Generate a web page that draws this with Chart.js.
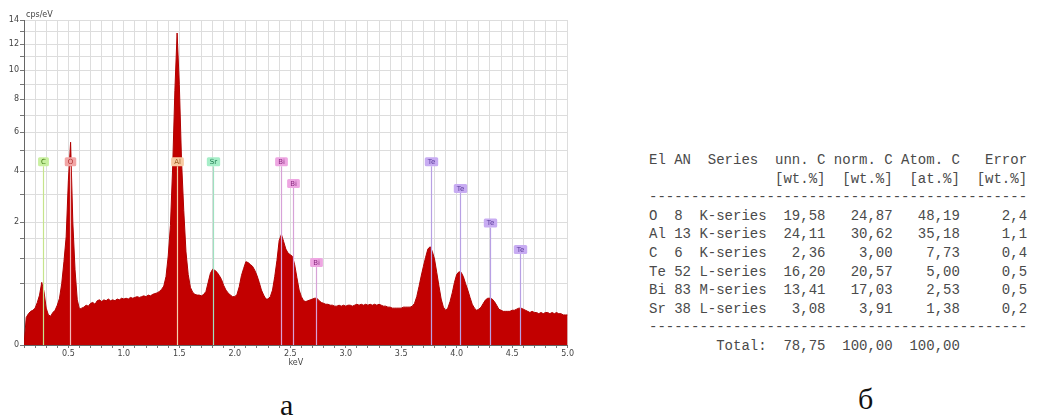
<!DOCTYPE html>
<html>
<head>
<meta charset="utf-8">
<script src="https://cdn.jsdelivr.net/npm/chart.js"></script>
<style>
  html, body { margin: 0; padding: 0; background: #fff; }
  body { width: 1039px; height: 416px; position: relative; overflow: hidden; }
  #spectrumBox { position: absolute; left: 0; top: 0; width: 575px; height: 372px; }
  #quant { position: absolute; left: 649px; top: 151px; margin: 0;
           font-family: "Liberation Mono", "DejaVu Sans Mono", monospace;
           font-size: 14px; line-height: 18.6px; color: #4a4a4a; }
  .caption { position: absolute; font-family: "Liberation Serif", "DejaVu Serif", serif;
             font-size: 30px; color: #111; line-height: 1; }
</style>
</head>
<body>
<div id="spectrumBox"><canvas id="spectrum" width="575" height="372"></canvas></div>

<pre id="quant">El AN  Series  unn. C norm. C Atom. C   Error
               [wt.%]  [wt.%]  [at.%]  [wt.%]
---------------------------------------------
O  8  K-series  19,58   24,87   48,19     2,4
Al 13 K-series  24,11   30,62   35,18     1,1
C  6  K-series   2,36    3,00    7,73     0,4
Te 52 L-series  16,20   20,57    5,00     0,5
Bi 83 M-series  13,41   17,03    2,53     0,5
Sr 38 L-series   3,08    3,91    1,38     0,2
---------------------------------------------
        Total:  78,75  100,00  100,00</pre>

<div class="caption" style="left:280px; top:390px;">а</div>
<div class="caption" style="left:858px; top:384px;">б</div>

<script>
// EDS spectrum: channel calibration and intensities (cps/eV)
const channelStartKeV = 0.10;
const channelWidthKeV = 0.02;
const countsCps = [
  0, 0.10, 0.13, 0.15, 0.16, 0.18, 0.24, 0.33, 0.52, 0.38,
  0.18, 0.12, 0.11, 0.14, 0.16, 0.21, 0.29, 0.50, 0.92, 1.55,
  3.6, 5.45, 2.0, 0.75, 0.27, 0.17, 0.18, 0.19, 0.21, 0.20,
  0.23, 0.24, 0.22, 0.26, 0.27, 0.25, 0.27, 0.26, 0.28, 0.26,
  0.27, 0.26, 0.28, 0.27, 0.29, 0.28, 0.29, 0.28, 0.30, 0.29,
  0.30, 0.31, 0.30, 0.31, 0.32, 0.31, 0.33, 0.32, 0.34, 0.35,
  0.36, 0.38, 0.41, 0.46, 0.62, 1.05, 1.9, 4.2, 8.6, 12.9,
  9.0, 4.5, 2.4, 1.15, 0.66, 0.44, 0.37, 0.34, 0.33, 0.33,
  0.32, 0.34, 0.38, 0.52, 0.68, 0.76, 0.74, 0.70, 0.64, 0.57,
  0.47, 0.40, 0.36, 0.33, 0.31, 0.31, 0.34, 0.45, 0.64, 0.78,
  0.92, 0.90, 0.86, 0.82, 0.74, 0.64, 0.52, 0.40, 0.33, 0.28,
  0.28, 0.31, 0.40, 0.62, 0.95, 1.45, 1.62, 1.42, 1.22, 1.12,
  1.08, 1.04, 0.85, 0.60, 0.40, 0.31, 0.26, 0.25, 0.26, 0.27,
  0.28, 0.29, 0.29, 0.26, 0.24, 0.23, 0.22, 0.22, 0.21, 0.21,
  0.20, 0.20, 0.21, 0.20, 0.21, 0.20, 0.21, 0.21, 0.20, 0.21,
  0.22, 0.21, 0.22, 0.21, 0.22, 0.21, 0.22, 0.21, 0.22, 0.21,
  0.22, 0.21, 0.20, 0.20, 0.19, 0.19, 0.18, 0.18, 0.18, 0.18,
  0.18, 0.19, 0.19, 0.19, 0.19, 0.20, 0.23, 0.31, 0.45, 0.63,
  0.82, 1.02, 1.22, 1.28, 1.16, 0.98, 0.70, 0.46, 0.28, 0.19,
  0.16, 0.18, 0.25, 0.36, 0.52, 0.66, 0.71, 0.70, 0.62, 0.50,
  0.40, 0.30, 0.22, 0.18, 0.16, 0.17, 0.19, 0.23, 0.27, 0.29,
  0.29, 0.28, 0.25, 0.21, 0.17, 0.16, 0.15, 0.15, 0.15, 0.15,
  0.16, 0.16, 0.17, 0.18, 0.18, 0.17, 0.16, 0.15, 0.14, 0.15,
  0.14, 0.14, 0.13, 0.14, 0.13, 0.14, 0.14, 0.13, 0.14, 0.13,
  0.14, 0.13, 0.13, 0.12, 0.12, 0.12
];

// Identified element lines: symbol, energy (keV) and label level (cps/eV)
const lineSymbols  = ['C', 'O', 'Al', 'Sr', 'Bi', 'Bi', 'Bi', 'Te', 'Te', 'Te', 'Te'];
const lineEnergies = [0.268, 0.515, 1.483, 1.806, 2.419, 2.525, 2.735, 3.769, 4.029, 4.301, 4.571];
const lineLevels   = [4.45, 4.45, 4.45, 4.45, 4.45, 3.46, 0.90, 4.45, 3.25, 1.97, 1.21];

// Axis ticks
const xRangeKeV = [0.1, 5.0];
const xTickLabels = ['0.5', '1.0', '1.5', '2.0', '2.5', '3.0', '3.5', '4.0', '4.5', '5.0'];
const yRangeCps = [0, 14];
const yGridValues = [0, 0.5, 1, 1.5, 2, 3, 4, 5, 6, 7, 8, 9, 10, 11, 12, 13, 14];
const yTickLabels = ['0', '2', '4', '6', '8', '10', '12', '14'];

const lineColors = {
  C:  { box: '#c9f0a0', text: '#3f7a10', line: '#c6e48c' },
  O:  { box: '#f2a6a6', text: '#b03030', line: '#f2b8b8' },
  Al: { box: '#f7cba3', text: '#9a5a20', line: '#f5d2ae' },
  Sr: { box: '#a6eec8', text: '#1f7a50', line: '#9ee0c0' },
  Bi: { box: '#eea6e2', text: '#8a2a80', line: '#d7a2d7' },
  Te: { box: '#c8acf2', text: '#5a3a9a', line: '#b8a0e4' }
};

// Square-root intensity axis
class SqrtScale extends Chart.LinearScale {
  getPixelForValue(value) {
    const lo = Math.sqrt(Math.max(this.min, 0));
    const hi = Math.sqrt(this.max);
    const v = Math.sqrt(Math.max(value, 0));
    return this.getPixelForDecimal((v - lo) / (hi - lo));
  }
  getValueForPixel(pixel) {
    const lo = Math.sqrt(Math.max(this.min, 0));
    const hi = Math.sqrt(this.max);
    const s = lo + this.getDecimalForPixel(pixel) * (hi - lo);
    return s * s;
  }
}
SqrtScale.id = 'sqrt';
SqrtScale.defaults = {};
Chart.register(SqrtScale);

const spectrumPoints = countsCps.map((c, i) => ({
  x: +(channelStartKeV + i * channelWidthKeV).toFixed(2),
  y: c
}));

const axisFont = { family: '"DejaVu Sans", Verdana, sans-serif', size: 8 };

// Element line markers with their labels, and the unit caption
const elementMarkers = {
  id: 'elementMarkers',
  afterDatasetsDraw(chart) {
    const { ctx, scales: { x, y }, chartArea } = chart;
    const base = y.getPixelForValue(0);
    ctx.save();
    ctx.font = '7px "DejaVu Sans", Verdana, sans-serif';
    lineSymbols.forEach((sym, i) => {
      const c = lineColors[sym];
      const px = Math.round(x.getPixelForValue(lineEnergies[i])) + 0.5;
      const py = y.getPixelForValue(lineLevels[i]);
      const w = ctx.measureText(sym).width + 6;
      const h = 9;
      ctx.strokeStyle = c.line;
      ctx.lineWidth = 1.2;
      ctx.beginPath();
      ctx.moveTo(px, py + h / 2);
      ctx.lineTo(px, base);
      ctx.stroke();
      ctx.fillStyle = c.box;
      ctx.beginPath();
      ctx.roundRect(px - w / 2, py - h / 2, w, h, 1.5);
      ctx.fill();
      ctx.fillStyle = c.text;
      ctx.textAlign = 'center';
      ctx.textBaseline = 'middle';
      ctx.fillText(sym, px, py + 0.5);
    });
    ctx.font = '8px "DejaVu Sans", Verdana, sans-serif';
    ctx.fillStyle = '#444';
    ctx.textAlign = 'left';
    ctx.textBaseline = 'middle';
    ctx.fillText('cps/eV', chartArea.left + 2, chartArea.top - 5);
    ctx.restore();
  }
};

new Chart(document.getElementById('spectrum'), {
  type: 'line',
  data: {
    datasets: [{
      data: spectrumPoints,
      fill: 'origin',
      backgroundColor: '#c20000',
      borderColor: '#b00000',
      borderWidth: 1,
      pointRadius: 0,
      tension: 0
    }]
  },
  options: {
    responsive: false,
    animation: false,
    layout: { padding: { top: 20, right: 7, left: 0, bottom: 0 } },
    plugins: { legend: { display: false }, tooltip: { enabled: false } },
    scales: {
      x: {
        type: 'linear',
        min: xRangeKeV[0],
        max: xRangeKeV[1],
        afterFit: s => { s.height = 27; },
        ticks: {
          stepSize: 0.1,
          autoSkip: false,
          maxRotation: 0,
          minRotation: 0,
          padding: 1,
          color: '#444',
          font: axisFont,
          callback: v => {
            const s = Number(v).toFixed(1);
            return xTickLabels.includes(s) ? s : '';
          }
        },
        grid: { color: '#dddddd', tickLength: 3, tickColor: '#777' },
        border: { color: '#666' },
        title: { display: true, text: 'keV', color: '#444', font: axisFont, padding: { top: 0, bottom: 4 } }
      },
      y: {
        type: 'sqrt',
        position: 'left',
        min: yRangeCps[0],
        max: yRangeCps[1],
        afterBuildTicks: s => { s.ticks = yGridValues.map(v => ({ value: v })); },
        afterFit: s => { s.width = 24; },
        ticks: {
          autoSkip: false,
          padding: 1,
          color: '#444',
          font: axisFont,
          callback: v => (yTickLabels.includes(String(v)) ? String(v) : '')
        },
        grid: { color: '#dddddd', tickLength: 4, tickColor: '#777' },
        border: { color: '#666' }
      }
    }
  },
  plugins: [elementMarkers]
});
</script>
</body>
</html>
